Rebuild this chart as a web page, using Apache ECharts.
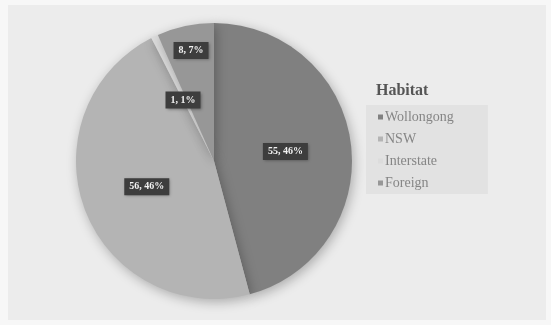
<!DOCTYPE html>
<html>
<head>
<meta charset="utf-8">
<script src="https://cdn.jsdelivr.net/npm/echarts@6/dist/echarts.min.js"></script>
<style>
  html, body { margin: 0; padding: 0; background: #f7f7f7; }
  #chart { width: 551px; height: 325px; }
</style>
</head>
<body>
<div id="chart"></div>
<script>
// Origin of respondents by habitat
const categories = ['Wollongong', 'NSW', 'Interstate', 'Foreign'];
const counts = [55, 56, 1, 8];
const sliceColors = ['#808080', '#b4b4b4', '#dcdcdc', '#979797'];
const legendTitle = 'Habitat';

const serif = '"Liberation Serif", "DejaVu Serif", serif';

const chart = echarts.init(document.getElementById('chart'), null, { renderer: 'canvas' });

chart.setOption({
  backgroundColor: '#f7f7f7',
  animation: false,
  graphic: [
    {
      type: 'rect',
      z: -10,
      shape: { x: 8, y: 5, width: 538, height: 315 },
      style: { fill: '#ececec' }
    }
  ],
  title: {
    text: legendTitle,
    left: 371,
    top: 78,
    textStyle: { fontFamily: serif, fontSize: 16, fontWeight: 'bold', color: '#555' }
  },
  legend: {
    orient: 'vertical',
    left: 366,
    top: 105,
    padding: [5, 34, 4, 12],
    backgroundColor: '#e2e2e2',
    itemWidth: 5,
    itemHeight: 5,
    itemGap: 8,
    icon: 'rect',
    textStyle: { fontFamily: serif, fontSize: 14, color: '#858585', padding: [0, 0, 0, -3] },
    data: categories
  },
  series: [
    {
      type: 'pie',
      center: [214, 161],
      radius: 138,
      startAngle: 90,
      clockwise: true,
      percentPrecision: 0,
      label: {
        show: true,
        position: 'inside',
        formatter: '{c}, {d}%',
        fontFamily: serif,
        fontSize: 10,
        fontWeight: 'bold',
        color: '#f2f2f2',
        backgroundColor: '#3d3d3d',
        padding: [4, 5, 3, 5],
        shadowColor: 'rgba(0,0,0,0.35)',
        shadowBlur: 3,
        shadowOffsetX: 1,
        shadowOffsetY: 1
      },
      labelLayout: function (params) {
        // the small Foreign slice keeps its label nearer the rim
        if (params.dataIndex === 3) {
          return { dx: -8, dy: -40 };
        }
        if (params.dataIndex === 2) {
          return { dy: 4 };
        }
      },
      labelLine: { show: false },
      itemStyle: {
        borderWidth: 0,
        shadowColor: 'rgba(0,0,0,0.28)',
        shadowBlur: 12,
        shadowOffsetX: 2,
        shadowOffsetY: 3
      },
      emphasis: { disabled: true },
      data: categories.map((name, i) => ({
        name: name,
        value: counts[i],
        itemStyle: { color: sliceColors[i] }
      }))
    }
  ]
});
</script>
</body>
</html>
